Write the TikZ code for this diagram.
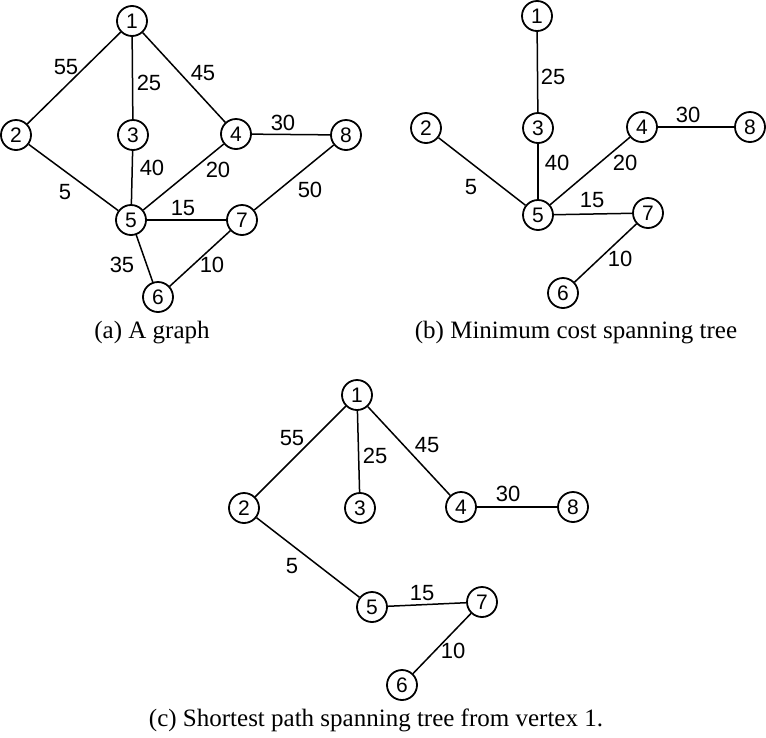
\documentclass[tikz,border=0pt]{standalone}
\usepackage{fontspec}
\setmainfont{Liberation Serif}
\newfontfamily\lettering{Liberation Sans}
\usetikzlibrary{positioning}

\begin{document}
\begin{tikzpicture}[
  x=1pt, y=-1pt,
  vtx/.style={circle, draw, line width=1.8pt, minimum size=30pt, inner sep=0pt,
              font=\lettering\fontsize{21}{21}\selectfont},
  wt/.style={inner sep=0pt, font=\lettering\fontsize{22}{22}\selectfont},
  captext/.style={inner sep=0pt, font=\fontsize{25}{28}\selectfont},
  link/.style={line width=1.5pt}
]
  \useasboundingbox (0,0) rectangle (766,737);

  % (a) the graph
  \node[vtx] (a1) at (132,21)  {1};
  \node[vtx] (a2) at (16,135)  {2};
  \node[vtx] (a3) at (133,135) {3};
  \node[vtx] (a4) at (236,134) {4};
  \node[vtx] (a8) at (346,135) {8};
  \node[vtx] (a5) at (131,220) {5};
  \node[vtx] (a7) at (242,220) {7};
  \node[vtx] (a6) at (158,297) {6};
  \draw[link] (a1) -- (a2);
  \draw[link] (a1) -- (a3);
  \draw[link] (a1) -- (a4);
  \draw[link] (a4) -- (a8);
  \draw[link] (a2) -- (a5);
  \draw[link] (a3) -- (a5);
  \draw[link] (a4) -- (a5);
  \draw[link] (a5) -- (a7);
  \draw[link] (a8) -- (a7);
  \draw[link] (a5) -- (a6);
  \draw[link] (a7) -- (a6);
  \node[wt] (wa12) at (66,67)   {55};
  \node[wt] (wa13) at (149,83)  {25};
  \node[wt] (wa14) at (203,73)  {45};
  \node[wt] (wa48) at (283,123) {30};
  \node[wt] (wa35) at (152,168) {40};
  \node[wt] (wa45) at (218,170) {20};
  \node[wt] (wa25) at (65,192)  {5};
  \node[wt] (wa57) at (183,208) {15};
  \node[wt] (wa87) at (310,190) {50};
  \node[wt] (wa56) at (122,265) {35};
  \node[wt] (wa76) at (212,265) {10};
  \node[captext] (capa) at (152,333) {(a) A graph};

  % (b) minimum cost spanning tree
  \node[vtx] (b1) at (537,16)  {1};
  \node[vtx] (b2) at (426,128) {2};
  \node[vtx] (b3) at (538,128) {3};
  \node[vtx] (b4) at (642,127) {4};
  \node[vtx] (b8) at (750,127) {8};
  \node[vtx] (b5) at (538,215) {5};
  \node[vtx] (b7) at (648,213) {7};
  \node[vtx] (b6) at (563,293) {6};
  \draw[link] (b1) -- (b3);
  \draw[link] (b3) -- (b5);
  \draw[link] (b2) -- (b5);
  \draw[link] (b4) -- (b5);
  \draw[link] (b4) -- (b8);
  \draw[link] (b5) -- (b7);
  \draw[link] (b7) -- (b6);
  \node[wt] (wb13) at (553,77)  {25};
  \node[wt] (wb48) at (688,115) {30};
  \node[wt] (wb35) at (557,163) {40};
  \node[wt] (wb45) at (625,163) {20};
  \node[wt] (wb25) at (471,187) {5};
  \node[wt] (wb57) at (592,200) {15};
  \node[wt] (wb76) at (620,259) {10};
  \node[captext] (capb) at (576,333) {(b) Minimum cost spanning tree};

  % (c) shortest path spanning tree
  \node[vtx] (c1) at (357,395) {1};
  \node[vtx] (c2) at (244,508) {2};
  \node[vtx] (c3) at (360,508) {3};
  \node[vtx] (c4) at (461,507) {4};
  \node[vtx] (c8) at (573,507) {8};
  \node[vtx] (c5) at (372,607) {5};
  \node[vtx] (c7) at (482,602) {7};
  \node[vtx] (c6) at (402,685) {6};
  \draw[link] (c1) -- (c2);
  \draw[link] (c1) -- (c3);
  \draw[link] (c1) -- (c4);
  \draw[link] (c4) -- (c8);
  \draw[link] (c2) -- (c5);
  \draw[link] (c5) -- (c7);
  \draw[link] (c7) -- (c6);
  \node[wt] (wc12) at (292,438) {55};
  \node[wt] (wc13) at (375,456) {25};
  \node[wt] (wc14) at (427,445) {45};
  \node[wt] (wc48) at (508,494) {30};
  \node[wt] (wc25) at (292,566) {5};
  \node[wt] (wc57) at (422,593) {15};
  \node[wt] (wc76) at (453,651) {10};
  \node[captext] (capc) at (376,720) {(c) Shortest path spanning tree from vertex 1.};
\end{tikzpicture}
\end{document}
